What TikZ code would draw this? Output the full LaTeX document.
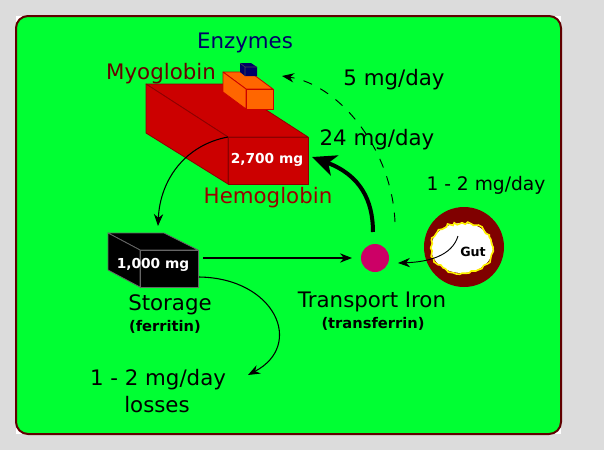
\documentclass[tikz,border=0pt]{standalone}
\usepackage{fontspec}
\setmainfont{DejaVu Sans}
\usetikzlibrary{arrows.meta,decorations.pathmorphing}
\definecolor{bg}{RGB}{220,220,220}
\definecolor{lime}{RGB}{0,255,51}
\definecolor{framec}{RGB}{96,0,0}
\definecolor{hemo}{RGB}{204,0,0}
\definecolor{hemoedge}{RGB}{140,0,0}
\definecolor{myo}{RGB}{255,102,0}
\definecolor{navyc}{RGB}{0,0,102}
\definecolor{maroonc}{RGB}{128,0,0}
\definecolor{tfc}{RGB}{204,0,102}
\definecolor{myotext}{RGB}{102,0,0}
\definecolor{hemotext}{RGB}{153,0,0}
\pgfmathsetseed{7}
\begin{document}
\begin{tikzpicture}[x=0.75pt,y=-0.75pt,
  lbl/.style={font=\fontsize{16}{18}\selectfont, inner sep=0pt},
  sub/.style={font=\bfseries\fontsize{11}{13}\selectfont, inner sep=0pt},
  val/.style={font=\bfseries\fontsize{10.3}{12}\selectfont, text=white, inner sep=0pt},
  thinarrow/.style={line width=0.8pt, -{Stealth[length=9pt,width=7pt]}},
  thickarrow/.style={line width=3pt, -{Stealth[length=18pt,width=16pt,inset=5pt]}},
  dasharrow/.style={line width=0.7pt, dash pattern=on 7pt off 7pt, -{Stealth[length=9pt,width=7pt]}}]
% background
\fill[bg] (0,0) rectangle (604,450);
\useasboundingbox (0,0) rectangle (604,450);
\fill[white] (16,16) rectangle (561,434);
\draw[framec, line width=1.5pt, fill=lime, rounded corners=9pt] (16,16) rectangle (561,434);

% Hemoglobin box
\draw[hemoedge, fill=hemo, line width=0.6pt, line join=round]
  (146,84) -- (226,84) -- (308,137) -- (228,137) -- cycle;
\draw[hemoedge, fill=hemo, line width=0.6pt, line join=round]
  (146,84) -- (228,137) -- (228,184) -- (146,133) -- cycle;
\draw[hemoedge, fill=hemo, line width=0.6pt] (228,137) rectangle (308,184);
\coordinate (hbcorner) at (228,137);
\coordinate (hbright) at (312,157);
\node[val] (hbval) at (267,160) {2,700 mg};

% Myoglobin box
\draw[hemo, fill=myo, line width=0.6pt, line join=round]
  (223,72) -- (250,72) -- (273,89) -- (246,89) -- cycle;
\draw[hemo, fill=myo, line width=0.6pt, line join=round]
  (223,72) -- (246,89) -- (246,109) -- (223,92) -- cycle;
\draw[hemo, fill=myo, line width=0.6pt] (246,89) rectangle (273,109);

% Enzymes cube
\fill[navyc] (240,63) -- (251,63) -- (257,67) -- (257,76) -- (245,76) -- (240,72) -- cycle;
\draw[black!70, line width=0.4pt] (245,67) -- (257,67) (245,67) -- (245,76) (245,67) -- (240,63);
\coordinate (enz) at (282,76);

% Storage box
\draw[black!60, fill=black, line width=0.6pt, line join=round]
  (108,233) -- (164,233) -- (198,250) -- (140,250) -- cycle;
\draw[black!60, fill=black, line width=0.6pt, line join=round]
  (108,233) -- (140,250) -- (140,287) -- (108,270) -- cycle;
\draw[black!60, fill=black, line width=0.6pt] (140,250) rectangle (198,287);
\node[val] (stval) at (153,265) {1,000 mg};
\coordinate (sttop) at (158,226);
\coordinate (stright) at (203,258);
\coordinate (stbottom) at (199,277);

% Transport iron
\fill[tfc] (375,258) circle (14);
\node[circle, minimum size=28\pgflinewidth, inner sep=0pt] (tf) at (375,258) {};
\coordinate (tfin) at (352,258);
\coordinate (tfright) at (398,263);
\coordinate (tftop) at (373,232);
\coordinate (tfdash) at (395,222);

% Gut
\fill[maroonc] (464,247) circle (40);
\fill[white] (462,248) ellipse (31 and 25);
\draw[yellow, line width=1.2pt, decorate, decoration={random steps, segment length=2.5pt, amplitude=1.2pt}]
  (462,248) ellipse (31 and 25);
\node[font=\bfseries\fontsize{9.5}{11}\selectfont, inner sep=0pt] (gut) at (473,252) {Gut};
\coordinate (gutin) at (458,236);

% Losses
\coordinate (loss) at (248,375);

% Connectors
\draw[thinarrow] (hbcorner) .. controls (185,145) and (160,180) .. (sttop);
\draw[thinarrow] (stright) -- (tfin);
\draw[thinarrow] (stbottom) .. controls (275,278) and (305,345) .. (loss);
\draw[thickarrow] (tftop) .. controls (373,200) and (360,175) .. (hbright);
\draw[dasharrow] (tfdash) .. controls (392,150) and (340,85) .. (enz);
\draw[line width=0.7pt, -{Stealth[length=9pt,width=7pt]}] (gutin) .. controls (452,256) and (428,262) .. (tfright);

% Labels
\node[lbl, text=navyc] (tenz) at (245,43) {Enzymes};
\node[lbl, text=myotext] (tmyo) at (161,74) {Myoglobin};
\node[lbl, text=hemotext] (themo) at (268,198) {Hemoglobin};
\node[lbl] (t5) at (394,80) {5 mg/day};
\node[lbl] (t24) at (377,140) {24 mg/day};
\node[lbl, font=\fontsize{14}{16}\selectfont] (tgut) at (486,185) {1 - 2 mg/day};
\node[lbl] (tstor) at (170,305) {Storage};
\node[sub] (tferr) at (165,327) {(ferritin)};
\node[lbl] (ttrans) at (372,302) {Transport Iron};
\node[sub] (ttf) at (373,324) {(transferrin)};
\node[lbl] (tloss1) at (158,380) {1 - 2 mg/day};
\node[lbl] (tloss2) at (157,405) {losses};
\end{tikzpicture}
\end{document}
